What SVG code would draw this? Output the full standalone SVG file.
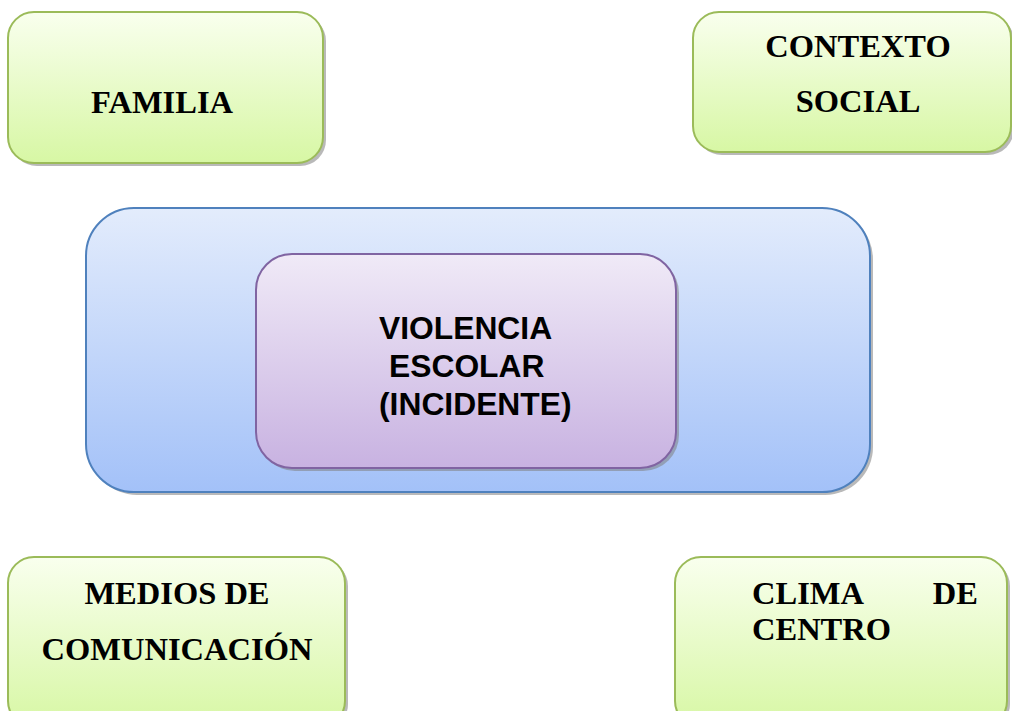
<svg xmlns="http://www.w3.org/2000/svg" width="1012" height="711" viewBox="0 0 1012 711">
<defs>
<linearGradient id="gGreen" x1="0" y1="0" x2="0" y2="1"><stop offset="0" stop-color="#f9ffee"/><stop offset="1" stop-color="#d7f7a4"/></linearGradient>
<linearGradient id="gBlue" x1="0" y1="0" x2="0" y2="1"><stop offset="0" stop-color="#e3ecfc"/><stop offset="1" stop-color="#a3c1f8"/></linearGradient>
<linearGradient id="gPurple" x1="0" y1="0" x2="0" y2="1"><stop offset="0" stop-color="#f0eaf7"/><stop offset="1" stop-color="#c8b2e1"/></linearGradient>
<style>
.sh{fill:#7f7f7f;opacity:0.55}
.green{fill:url(#gGreen);stroke:#9bbb59;stroke-width:2}
.blue{fill:url(#gBlue);stroke:#4f81bd;stroke-width:2}
.purple{fill:url(#gPurple);stroke:#8064a2;stroke-width:2}
.serif{font-family:"Liberation Serif","Times New Roman",serif;font-weight:bold;font-size:32.5px;fill:#000}
.sans{font-family:"Liberation Sans",Arial,sans-serif;font-weight:bold;font-size:31.8px;fill:#000}
</style>
</defs>
<g id="familia">
<rect class="sh" x="11" y="15" width="315" height="151" rx="26"/>
<rect class="green" x="8" y="12" width="315" height="151" rx="26"/>
<text class="serif" x="162" y="113" text-anchor="middle">FAMILIA</text>
</g>
<g id="contexto-social">
<rect class="sh" x="696" y="15" width="318" height="140" rx="26"/>
<rect class="green" x="693" y="12" width="318" height="140" rx="26"/>
<text class="serif" x="858" y="57" text-anchor="middle">CONTEXTO</text>
<text class="serif" x="858" y="112" text-anchor="middle">SOCIAL</text>
</g>
<g id="contexto-escolar">
<rect class="sh" x="89" y="211" width="784" height="284" rx="48"/>
<rect class="blue" x="86" y="208" width="784" height="284" rx="48"/>
</g>
<g id="violencia-escolar">
<rect class="sh" x="259" y="257" width="420" height="214" rx="36"/>
<rect class="purple" x="256" y="254" width="420" height="214" rx="36"/>
<text class="sans" x="379" y="339">VIOLENCIA</text>
<text class="sans" x="389" y="377">ESCOLAR</text>
<text class="sans" x="379" y="415">(INCIDENTE)</text>
</g>
<g id="medios">
<rect class="sh" x="11" y="560" width="337" height="170" rx="26"/>
<rect class="green" x="8" y="557" width="337" height="170" rx="26"/>
<text class="serif" x="177" y="604" text-anchor="middle">MEDIOS DE</text>
<text class="serif" x="177" y="660" text-anchor="middle">COMUNICACIÓN</text>
</g>
<g id="clima">
<rect class="sh" x="678" y="560" width="332" height="170" rx="26"/>
<rect class="green" x="675" y="557" width="332" height="170" rx="26"/>
<text class="serif" x="752" y="604">CLIMA</text>
<text class="serif" x="978" y="604" text-anchor="end">DE</text>
<text class="serif" x="752" y="640">CENTRO</text>
</g>
<g id="connectors"></g>
</svg>
